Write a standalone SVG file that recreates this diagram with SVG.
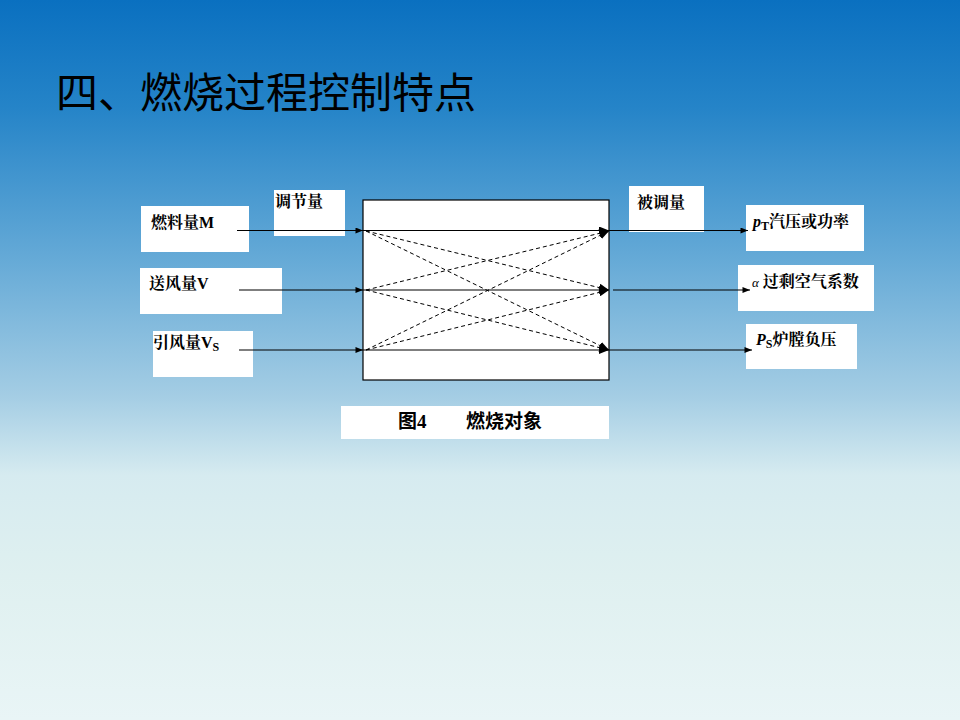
<svg xmlns="http://www.w3.org/2000/svg" width="960" height="720" viewBox="0 0 960 720">
<defs>
<linearGradient id="bg" x1="0" y1="0" x2="0" y2="1">
<stop offset="0" stop-color="#0a70c0"/>
<stop offset="0.15" stop-color="#2584c8"/>
<stop offset="0.35" stop-color="#62a8d6"/>
<stop offset="0.55" stop-color="#a4cde4"/>
<stop offset="0.66" stop-color="#d6ebf0"/>
<stop offset="0.8" stop-color="#dff0f0"/>
<stop offset="1" stop-color="#e9f5f6"/>
</linearGradient>
<marker id="ah" viewBox="0 0 10 8" refX="10" refY="4" markerWidth="10" markerHeight="8" markerUnits="userSpaceOnUse" orient="auto">
<path d="M0,0 L10,4 L0,8 Z" fill="#000"/>
</marker>
<marker id="ahs" viewBox="0 0 10 8" refX="10" refY="4" markerWidth="9" markerHeight="6" markerUnits="userSpaceOnUse" orient="auto">
<path d="M0,0 L10,4 L0,8 Z" fill="#000"/>
</marker>
</defs>
<style>
.box{fill:#fff;stroke:none}
.t{font-family:"Liberation Serif","Noto Serif CJK SC","Noto Sans CJK SC",serif;font-size:16px;font-weight:bold;fill:#000}
.cap{font-family:"Liberation Serif","Noto Sans CJK SC",serif;font-size:19px;font-weight:bold;fill:#000}
.ln{stroke:#000;stroke-width:1.2;fill:none}
.dl{stroke:#000;stroke-width:1;fill:none;stroke-dasharray:4,3}
</style>
<rect x="0" y="0" width="960" height="720" fill="url(#bg)"/>
<text x="56" y="108" font-family="'Noto Sans CJK SC',sans-serif" font-size="42" fill="#000">四、燃烧过程控制特点</text>

<g id="n_fuel"><rect class="box" x="141" y="206" width="108" height="46"/><text class="t" x="151" y="228">燃料量M</text></g>
<g id="n_adj"><rect class="box" x="274" y="190" width="71" height="46"/><text class="t" x="275" y="207">调节量</text></g>
<g id="n_air"><rect class="box" x="140" y="268" width="142" height="46"/><text class="t" x="149" y="289">送风量V</text></g>
<g id="n_ind"><rect class="box" x="153" y="331" width="100" height="46"/><text class="t" x="153" y="348">引风量V<tspan font-size="12" dy="3">S</tspan></text></g>
<g id="n_obj"><rect x="363" y="200" width="246" height="180" fill="#fff" stroke="#000" stroke-width="1.2"/></g>
<g id="n_ctl"><rect class="box" x="629" y="186" width="75" height="46"/><text class="t" x="637" y="208">被调量</text></g>
<g id="n_pt"><rect class="box" x="746" y="205" width="118" height="46"/><text class="t" x="753" y="227"><tspan font-style="italic">p</tspan><tspan font-size="12" dy="3">T</tspan><tspan dy="-3">汽压或功率</tspan></text></g>
<g id="n_alpha"><rect class="box" x="738" y="265" width="136" height="46"/><text class="t" x="752" y="287"><tspan font-style="italic" font-size="13" font-weight="normal">α</tspan> 过剩空气系数</text></g>
<g id="n_ps"><rect class="box" x="746" y="324" width="111" height="45"/><text class="t" x="756" y="345"><tspan font-style="italic">P</tspan><tspan font-size="12" dy="3">S</tspan><tspan dy="-3">炉膛负压</tspan></text></g>
<g id="n_cap"><rect class="box" x="341" y="406" width="268" height="33"/><text class="cap" x="398" y="428">图4</text><text class="cap" x="466" y="428">燃烧对象</text></g>

<g id="connectors">
<line class="ln" x1="237" y1="230.5" x2="363" y2="230.5" marker-end="url(#ahs)"/>
<line class="ln" x1="239" y1="290" x2="363" y2="290" marker-end="url(#ahs)"/>
<line class="ln" x1="239" y1="350" x2="363" y2="350" marker-end="url(#ahs)"/>
<line class="ln" x1="363" y1="230.5" x2="609" y2="230.5" marker-end="url(#ah)"/>
<line class="ln" x1="363" y1="290" x2="609" y2="290" marker-end="url(#ah)"/>
<line class="ln" x1="363" y1="350" x2="609" y2="350" marker-end="url(#ah)"/>
<line class="dl" x1="366" y1="231" x2="609" y2="290" marker-end="url(#ah)"/>
<line class="dl" x1="366" y1="231" x2="609" y2="350" marker-end="url(#ah)"/>
<line class="dl" x1="366" y1="290" x2="609" y2="231" marker-end="url(#ah)"/>
<line class="dl" x1="366" y1="290" x2="609" y2="350" marker-end="url(#ah)"/>
<line class="dl" x1="366" y1="350" x2="609" y2="231" marker-end="url(#ah)"/>
<line class="dl" x1="366" y1="350" x2="609" y2="290" marker-end="url(#ah)"/>
<line class="ln" x1="609" y1="230.5" x2="748" y2="230.5" marker-end="url(#ahs)"/>
<line class="ln" x1="613" y1="290" x2="750" y2="290" marker-end="url(#ahs)"/>
<line class="ln" x1="609" y1="350" x2="752" y2="350" marker-end="url(#ahs)"/>
</g>
</svg>
